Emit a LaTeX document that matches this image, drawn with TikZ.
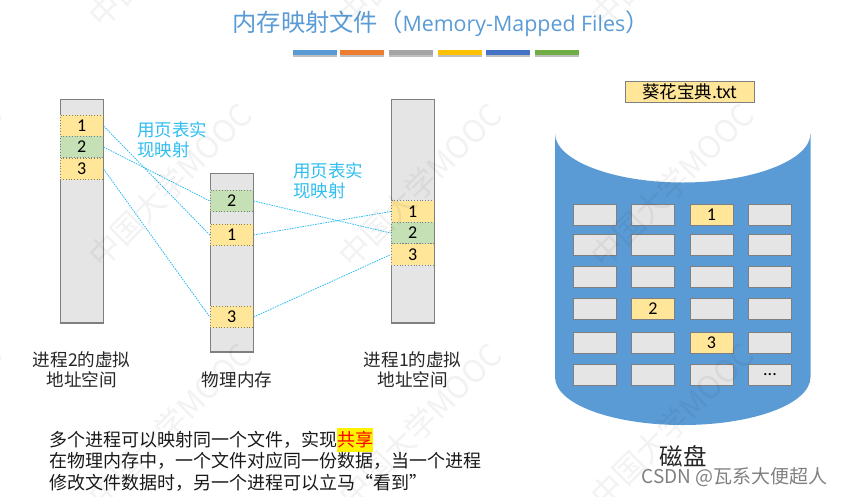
\documentclass[tikz,border=0pt]{standalone}
\usepackage{fontspec}
\setmainfont{Noto Sans CJK SC}
\newfontfamily\latinfont{Open Sans}
\newfontfamily\digitfont{Carlito}
\usepackage{tikz}
\usetikzlibrary{calc}
\definecolor{diskblue}{HTML}{5B9BD5}
\definecolor{cellgray}{HTML}{E5E5E5}
\definecolor{edgegray}{HTML}{7F7F7F}
\definecolor{pageyellow}{HTML}{FFE699}
\definecolor{pagegreen}{HTML}{C5E0B4}
\definecolor{mapblue}{HTML}{2FBDF0}
\tikzset{>=latex,
  bar/.style={draw=edgegray, fill=cellgray, line width=1.2pt, minimum width=43pt, inner sep=0pt},
  page/.style={draw=edgegray, dotted, line width=0.8pt, minimum width=43pt, minimum height=21.5pt, inner sep=0pt, font=\digitfont\fontsize{18}{18}\selectfont},
  yellowpage/.style={page, fill=pageyellow},
  greenpage/.style={page, fill=pagegreen},
  map/.style={mapblue, dash pattern=on 1.6pt off 1pt, line width=0.8pt},
  disknode/.style={draw=edgegray, fill=cellgray, line width=1pt, minimum width=43pt, minimum height=21pt, inner sep=0pt, font=\digitfont\fontsize{18}{18}\selectfont},
  yellowdisk/.style={disknode, fill=pageyellow},
  rule/.style={minimum width=44pt, minimum height=5pt, inner sep=0pt},
  caption/.style={align=center, font=\fontsize{17.6}{20.5}\selectfont, text=black!85},
  maplabel/.style={align=left, anchor=west, text=mapblue, font=\fontsize{17.5}{20.5}\selectfont},
  watermark/.style={rotate=45, text=black, text opacity=0.05, font=\fontsize{31}{31}\selectfont}
}
\begin{document}
\begin{tikzpicture}[x=1pt, y=-1pt]
\useasboundingbox (0,0) rectangle (842,496);
% title
\node[text=diskblue, font=\fontsize{24.3}{24.3}\selectfont] (title) at (441,24) {内存映射文件（{\latinfont\fontsize{21.4}{21.4}\selectfont Memory-Mapped Files}）};
\foreach \x/\c [count=\i] in {315/5B9BD5, 362/ED7D31, 411/A5A5A5, 460/FFC000, 508/4472C4, 557/70AD47} {
  \definecolor{rulecolor}{HTML}{\c}
  \fill[black!25] (\x-22,52) rectangle (\x+22,57);
  \node[rule, fill=rulecolor] (rule\i) at (\x,52.5) {};
}
% address spaces and memory
\node[bar, minimum height=223.5pt] (space2) at (81.7,211.2) {};
\node[bar, minimum height=178.5pt] (memory) at (231.7,262.7) {};
\node[bar, minimum height=223.5pt] (space1) at (412.7,211.2) {};
\node[yellowpage] (a1) at (81.7,126) {1};
\node[greenpage]  (a2) at (81.7,147) {2};
\node[yellowpage] (a3) at (81.7,169) {3};
\node[greenpage]  (m2) at (231.7,201) {2};
\node[yellowpage] (m1) at (231.7,235) {1};
\node[yellowpage] (m3) at (231.7,317) {3};
\node[yellowpage] (b1) at (412.7,211.5) {1};
\node[greenpage]  (b2) at (412.7,233) {2};
\node[yellowpage] (b3) at (412.7,254.5) {3};
% mappings
\draw[map] (a1.east) -- (m1.west);
\draw[map] (a2.east) -- (m2.west);
\draw[map] (a3.east) -- (m3.west);
\draw[map] (m1.east) -- (b1.west);
\draw[map] (m2.east) -- (b2.west);
\draw[map] (m3.east) -- (b3.west);
\node[maplabel] (tbl2) at (133.5,140) {用页表实\\现映射};
\node[maplabel] (tbl1) at (289.5,181) {用页表实\\现映射};
\node[caption] (cap2) at (81.7,370) {进程2的虚拟\\地址空间};
\node[caption] (capm) at (237,380) {物理内存};
\node[caption] (cap1) at (412.7,370) {进程1的虚拟\\地址空间};
% disk
\fill[diskblue] (555,133.5) .. controls (555,160) and (612,182.5) .. (682.7,182.5)
  .. controls (753,182.5) and (810.5,160) .. (810.5,133.5) -- (810.5,377)
  .. controls (810.5,404) and (753,425) .. (682.7,425)
  .. controls (612,425) and (555,404) .. (555,377) -- cycle;
\foreach \y [count=\r] in {215,245,277,309,343,375} {
  \foreach \x [count=\c] in {595,653,711.5,770} {
    \node[disknode] (cell-\r-\c) at (\x,\y) {};
  }
}
\node[yellowdisk] (d1) at (cell-1-3) {1};
\node[yellowdisk] (d2) at (cell-4-2) {2};
\node[yellowdisk] (d3) at (cell-5-3) {3};
\node[disknode] (dots) at (cell-6-4) {...};
\node[draw=edgegray, fill=pageyellow, line width=1pt, minimum width=129pt, minimum height=21pt, inner sep=0pt, font=\fontsize{17.5}{17.5}\selectfont] (file) at (690,92) {葵花宝典.txt};
\node[font=\fontsize{23.5}{23.5}\selectfont, text=black!85] (diskname) at (683,456) {磁盘};
% bottom text
\fill[yellow] (337,428) rectangle (373,452);
\node[anchor=north west, align=left, inner sep=0pt, text=black!90, font=\fontsize{18}{21.5}\selectfont] (note) at (49,431) {多个进程可以映射同一个文件，实现{\color{red}共享}\\在物理内存中，一个文件对应同一份数据，当一个进程\\修改文件数据时，另一个进程可以立马“看到”};
% watermarks
\foreach \y in {-55,185,425} {
  \foreach \x in {-80,170,420,672,922} {
    \node[watermark] at (\x,\y) {中国大学MOOC};
  }
}
\node[text=black!50, anchor=east, font=\fontsize{19}{19}\selectfont] (csdn) at (831,477) {CSDN @瓦系大便超人};
\end{tikzpicture}
\end{document}
